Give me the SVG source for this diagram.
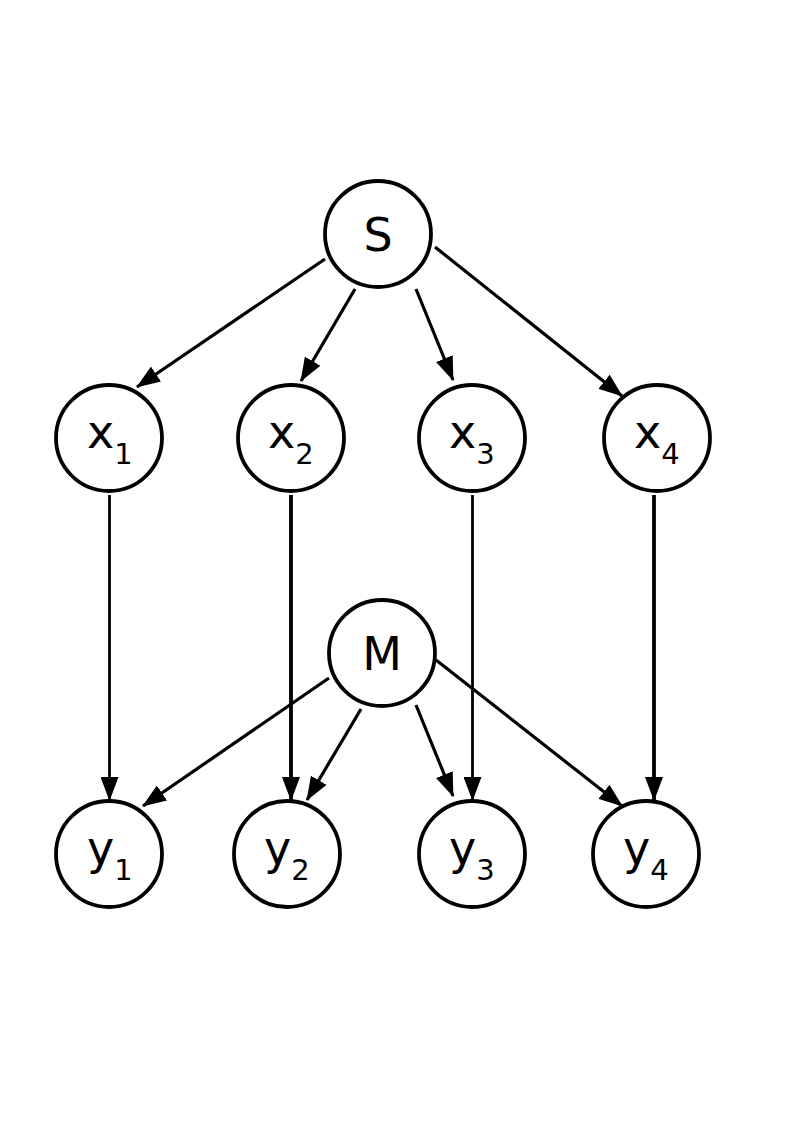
<svg xmlns="http://www.w3.org/2000/svg" width="794" height="1123" viewBox="0 0 794 1123">
<style>
.node circle{fill:#fff;stroke:#000;stroke-width:3.8}
.node text{font-family:"DejaVu Sans",sans-serif;font-size:46px;fill:#000}
.node .sub{font-size:29px}
.edges line{stroke:#000;stroke-width:3.2;marker-end:url(#ah)}
.edges line.thin{stroke-width:2.8}
.edges line.thick{stroke-width:3.8}
</style>
<defs>
<marker id="ah" markerUnits="userSpaceOnUse" markerWidth="24" markerHeight="18" viewBox="0 0 24 18" refX="23" refY="9" orient="auto">
<path d="M0,0 L24,9 L0,18 Z" fill="#000"/>
</marker>
</defs>
<rect width="794" height="1123" fill="#fff"/>
<g id="edges" class="edges">
<line x1="325" y1="259" x2="137" y2="387"/>
<line x1="355" y1="289" x2="301" y2="381"/>
<line x1="416" y1="289" x2="453" y2="380"/>
<line x1="435" y1="247" x2="622" y2="396"/>
<line class="thin" x1="109.5" y1="495" x2="109.5" y2="800"/>
<line class="thick" x1="291" y1="495" x2="291" y2="800"/>
<line class="thin" x1="472.5" y1="495" x2="472.5" y2="800"/>
<line class="thick" x1="654" y1="495" x2="654" y2="800"/>
<line x1="329" y1="678" x2="143" y2="806"/>
<line x1="361" y1="709" x2="307" y2="800"/>
<line x1="416" y1="705" x2="453" y2="796"/>
<line x1="436" y1="660" x2="622" y2="806"/>
</g>
<g id="S" class="node"><circle cx="378" cy="234" r="53"/><text x="378" y="251" text-anchor="middle">S</text></g>
<g id="x1" class="node"><circle cx="109" cy="438" r="53"/><text x="87" y="448">x<tspan class="sub" y="464">1</tspan></text></g>
<g id="x2" class="node"><circle cx="291" cy="438" r="53"/><text x="268" y="448">x<tspan class="sub" y="464">2</tspan></text></g>
<g id="x3" class="node"><circle cx="472" cy="438" r="53"/><text x="449" y="448">x<tspan class="sub" y="464">3</tspan></text></g>
<g id="x4" class="node"><circle cx="657" cy="438" r="53"/><text x="634" y="448">x<tspan class="sub" y="464">4</tspan></text></g>
<g id="M" class="node"><circle cx="382" cy="653" r="53"/><text x="382" y="670" text-anchor="middle">M</text></g>
<g id="y1" class="node"><circle cx="109" cy="854" r="53"/><text x="87" y="864">y<tspan class="sub" y="880">1</tspan></text></g>
<g id="y2" class="node"><circle cx="287" cy="854" r="53"/><text x="264" y="864">y<tspan class="sub" y="880">2</tspan></text></g>
<g id="y3" class="node"><circle cx="472" cy="854" r="53"/><text x="449" y="864">y<tspan class="sub" y="880">3</tspan></text></g>
<g id="y4" class="node"><circle cx="646" cy="854" r="53"/><text x="623" y="864">y<tspan class="sub" y="880">4</tspan></text></g>
</svg>
